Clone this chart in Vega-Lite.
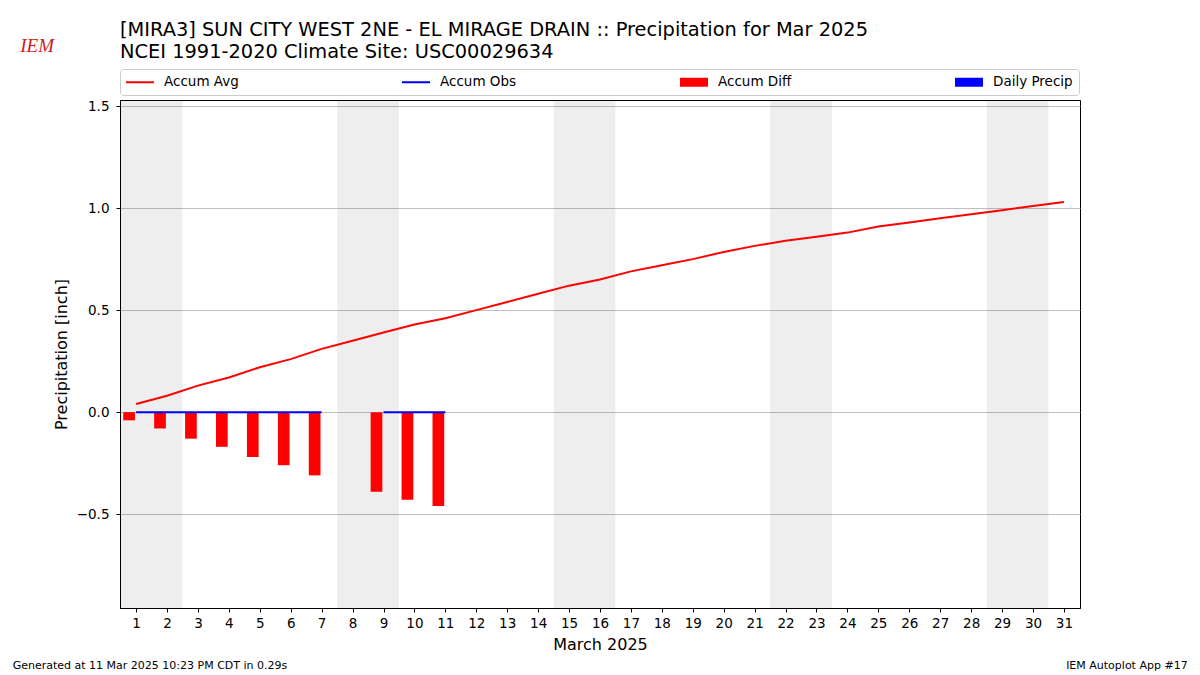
{
  "$schema": "https://vega.github.io/schema/vega-lite/v6.json",
  "width": 960,
  "height": 508,
  "autosize": "none",
  "padding": {"left": 120, "top": 100, "right": 120, "bottom": 67},
  "background": "white",
  "title": {
    "text": ["[MIRA3] SUN CITY WEST 2NE - EL MIRAGE DRAIN :: Precipitation for Mar 2025", "NCEI 1991-2020 Climate Site: USC00029634"],
    "anchor": "start",
    "frame": "group",
    "fontSize": 19.4,
    "fontWeight": "normal",
    "font": "DejaVu Sans",
    "color": "black",
    "lineHeight": 22,
    "offset": -25
  },
  "datasets": {
    "daily": [
      {"day": 1, "avg": 0.04, "obs": 0, "diff": -0.04, "precip": 0},
      {"day": 2, "avg": 0.08, "obs": 0, "diff": -0.08, "precip": 0},
      {"day": 3, "avg": 0.13, "obs": 0, "diff": -0.13, "precip": 0},
      {"day": 4, "avg": 0.17, "obs": 0, "diff": -0.17, "precip": 0},
      {"day": 5, "avg": 0.22, "obs": 0, "diff": -0.22, "precip": 0},
      {"day": 6, "avg": 0.26, "obs": 0, "diff": -0.26, "precip": 0},
      {"day": 7, "avg": 0.31, "obs": 0, "diff": -0.31, "precip": 0},
      {"day": 8, "avg": 0.35, "obs": null, "diff": null, "precip": null},
      {"day": 9, "avg": 0.39, "obs": 0, "diff": -0.39, "precip": 0},
      {"day": 10, "avg": 0.43, "obs": 0, "diff": -0.43, "precip": 0},
      {"day": 11, "avg": 0.46, "obs": 0, "diff": -0.46, "precip": 0},
      {"day": 12, "avg": 0.50, "obs": null, "diff": null, "precip": null},
      {"day": 13, "avg": 0.54, "obs": null, "diff": null, "precip": null},
      {"day": 14, "avg": 0.58, "obs": null, "diff": null, "precip": null},
      {"day": 15, "avg": 0.62, "obs": null, "diff": null, "precip": null},
      {"day": 16, "avg": 0.65, "obs": null, "diff": null, "precip": null},
      {"day": 17, "avg": 0.69, "obs": null, "diff": null, "precip": null},
      {"day": 18, "avg": 0.72, "obs": null, "diff": null, "precip": null},
      {"day": 19, "avg": 0.75, "obs": null, "diff": null, "precip": null},
      {"day": 20, "avg": 0.785, "obs": null, "diff": null, "precip": null},
      {"day": 21, "avg": 0.815, "obs": null, "diff": null, "precip": null},
      {"day": 22, "avg": 0.84, "obs": null, "diff": null, "precip": null},
      {"day": 23, "avg": 0.86, "obs": null, "diff": null, "precip": null},
      {"day": 24, "avg": 0.88, "obs": null, "diff": null, "precip": null},
      {"day": 25, "avg": 0.91, "obs": null, "diff": null, "precip": null},
      {"day": 26, "avg": 0.93, "obs": null, "diff": null, "precip": null},
      {"day": 27, "avg": 0.95, "obs": null, "diff": null, "precip": null},
      {"day": 28, "avg": 0.97, "obs": null, "diff": null, "precip": null},
      {"day": 29, "avg": 0.99, "obs": null, "diff": null, "precip": null},
      {"day": 30, "avg": 1.01, "obs": null, "diff": null, "precip": null},
      {"day": 31, "avg": 1.03, "obs": null, "diff": null, "precip": null}
    ],
    "weekends": [
      {"start": 0.5, "end": 2.5},
      {"start": 7.5, "end": 9.5},
      {"start": 14.5, "end": 16.5},
      {"start": 21.5, "end": 23.5},
      {"start": 28.5, "end": 30.5}
    ],
    "series": [
      {"series": "Accum Avg"},
      {"series": "Accum Obs"},
      {"series": "Accum Diff"},
      {"series": "Daily Precip"}
    ]
  },
  "layer": [
    {
      "data": {"name": "weekends"},
      "mark": {"type": "rect", "fill": "#000000", "opacity": 0.067},
      "encoding": {
        "x": {"field": "start", "type": "quantitative", "scale": {"domain": [0.48, 31.52], "nice": false, "zero": false, "padding": 0},
          "axis": {"values": [1,2,3,4,5,6,7,8,9,10,11,12,13,14,15,16,17,18,19,20,21,22,23,24,25,26,27,28,29,30,31], "tickCount": 31, "format": "d", "title": "March 2025", "grid": false, "titlePadding": 7, "labelPadding": 4}},
        "x2": {"field": "end"},
        "y": {"datum": -0.96, "type": "quantitative", "scale": {"domain": [-0.96, 1.53], "nice": false, "zero": false, "padding": 0},
          "axis": {"values": [-0.5, 0, 0.5, 1, 1.5], "format": ".1f", "title": "Precipitation [inch]", "grid": true, "labelPadding": 7, "titlePadding": 7}},
        "y2": {"datum": 1.53}
      }
    },
    {
      "data": {"name": "daily"},
      "transform": [{"filter": "datum.diff != null"}],
      "mark": {"type": "bar", "orient": "vertical", "color": "#ff0000", "width": 11.7, "xOffset": -7},
      "encoding": {
        "x": {"field": "day", "type": "quantitative", "title": "March 2025",
          "axis": {"values": [1,2,3,4,5,6,7,8,9,10,11,12,13,14,15,16,17,18,19,20,21,22,23,24,25,26,27,28,29,30,31], "tickCount": 31, "format": "d", "title": "March 2025", "grid": false, "titlePadding": 7, "labelPadding": 4}},
        "y": {"field": "diff", "type": "quantitative", "title": "Precipitation [inch]",
          "axis": {"values": [-0.5, 0, 0.5, 1, 1.5], "format": ".1f", "title": "Precipitation [inch]", "grid": true, "labelPadding": 7, "titlePadding": 7}}
      }
    },
    {
      "data": {"name": "daily"},
      "transform": [{"filter": "datum.precip != null"}],
      "mark": {"type": "bar", "orient": "vertical", "color": "#0000ff", "width": 11.7, "xOffset": 7},
      "encoding": {
        "x": {"field": "day", "type": "quantitative", "title": "March 2025"},
        "y": {"field": "precip", "type": "quantitative", "title": "Precipitation [inch]"}
      }
    },
    {
      "data": {"name": "daily"},
      "mark": {"type": "line", "color": "#ff0000", "strokeWidth": 2},
      "encoding": {
        "x": {"field": "day", "type": "quantitative", "title": "March 2025"},
        "y": {"field": "avg", "type": "quantitative", "title": "Precipitation [inch]"}
      }
    },
    {
      "data": {"name": "daily"},
      "mark": {"type": "line", "color": "#0000ff", "strokeWidth": 2, "invalid": "break-paths-show-domains"},
      "encoding": {
        "x": {"field": "day", "type": "quantitative", "title": "March 2025"},
        "y": {"field": "obs", "type": "quantitative", "title": "Precipitation [inch]"}
      }
    },
    {
      "data": {"name": "series"},
      "mark": {"type": "point", "filled": true, "clip": true, "size": 196, "strokeWidth": 0},
      "encoding": {
        "x": {"datum": -5, "type": "quantitative", "title": "March 2025"},
        "y": {"datum": 0, "type": "quantitative", "title": "Precipitation [inch]"},
        "color": {
          "field": "series", "type": "nominal",
          "scale": {"domain": ["Accum Avg", "Accum Obs", "Accum Diff", "Daily Precip"], "range": ["#ff0000", "#0000ff", "#ff0000", "#0000ff"]},
          "legend": {"title": null, "orient": "none", "legendX": 0, "legendY": -31, "direction": "horizontal", "columns": 4,
            "columnPadding": 163, "symbolSize": 196, "symbolStrokeWidth": 0, "labelFontSize": 13.5, "labelFont": "DejaVu Sans",
            "labelColor": "black", "labelOffset": 24, "padding": 6, "strokeColor": "#cccccc", "cornerRadius": 3, "fillColor": "white", "symbolOpacity": 1}
        },
        "shape": {
          "field": "series", "type": "nominal",
          "scale": {"domain": ["Accum Avg", "Accum Obs", "Accum Diff", "Daily Precip"],
            "range": ["M-1,-0.143L3,-0.143L3,0.143L-1,0.143Z", "M-1,-0.143L3,-0.143L3,0.143L-1,0.143Z", "M-1,-0.643L3,-0.643L3,0.643L-1,0.643Z", "M-1,-0.643L3,-0.643L3,0.643L-1,0.643Z"]},
          "legend": {"title": null, "orient": "none", "legendX": 0, "legendY": -31, "direction": "horizontal", "columns": 4,
            "columnPadding": 163, "symbolSize": 196, "symbolStrokeWidth": 0, "labelFontSize": 13.5, "labelFont": "DejaVu Sans",
            "labelColor": "black", "labelOffset": 24, "padding": 6, "strokeColor": "#cccccc", "cornerRadius": 3, "fillColor": "white", "symbolOpacity": 1}
        }
      }
    },
    {
      "data": {"values": [{"note": "Generated at 11 Mar 2025 10:23 PM CDT in 0.29s"}]},
      "mark": {"type": "text", "align": "left", "baseline": "middle", "fontSize": 11, "font": "DejaVu Sans", "color": "black"},
      "encoding": {
        "x": {"datum": -2.99, "type": "quantitative", "title": "March 2025"},
        "y": {"datum": -1.245, "type": "quantitative", "title": "Precipitation [inch]"},
        "text": {"field": "note"}
      }
    },
    {
      "data": {"values": [{"note": "IEM Autoplot App #17"}]},
      "mark": {"type": "text", "align": "right", "baseline": "middle", "fontSize": 11, "font": "DejaVu Sans", "color": "black"},
      "encoding": {
        "x": {"datum": 35.0, "type": "quantitative", "title": "March 2025"},
        "y": {"datum": -1.245, "type": "quantitative", "title": "Precipitation [inch]"},
        "text": {"field": "note"}
      }
    },
    {
      "data": {"values": [{"note": "IEM"}]},
      "mark": {"type": "text", "align": "center", "baseline": "middle", "fontSize": 19, "font": "Liberation Serif", "fontStyle": "italic", "color": "#cc2222"},
      "encoding": {
        "x": {"datum": -2.2, "type": "quantitative", "title": "March 2025"},
        "y": {"datum": 1.795, "type": "quantitative", "title": "Precipitation [inch]"},
        "text": {"field": "note"}
      }
    }
  ],
  "config": {
    "font": "DejaVu Sans",
    "view": {"stroke": "black", "strokeWidth": 1},
    "axis": {
      "domainColor": "black",
      "domainWidth": 1,
      "tickColor": "black",
      "tickSize": 4,
      "tickWidth": 1,
      "labelFont": "DejaVu Sans",
      "labelFontSize": 13.5,
      "labelColor": "black",
      "titleFont": "DejaVu Sans",
      "titleFontSize": 16,
      "titleFontWeight": "normal",
      "titleColor": "black",
      "gridColor": "#b0b0b0",
      "gridWidth": 0.8,
      "labelFlush": false,
      "labelOverlap": false
    }
  }
}
